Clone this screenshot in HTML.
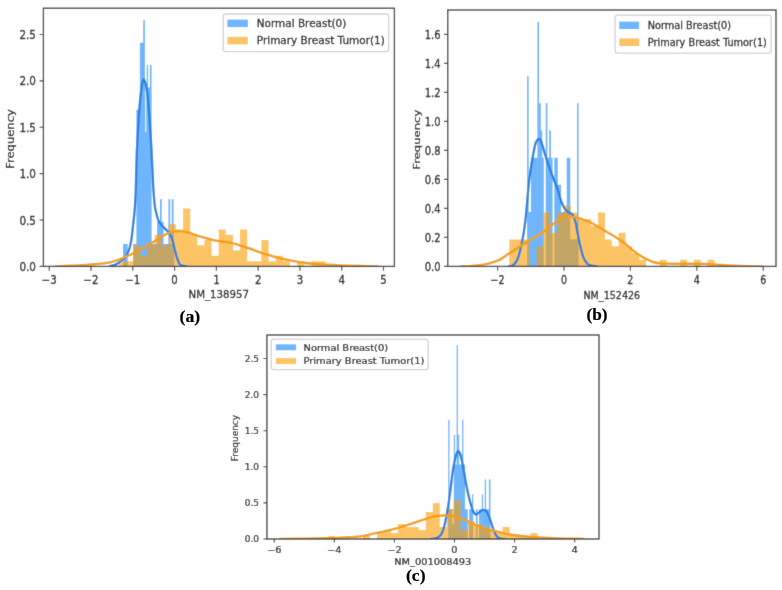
<!DOCTYPE html>
<html lang="en">
<head>
<meta charset="utf-8">
<title>Gene expression distribution: Normal Breast vs Primary Breast Tumor</title>
<style>
html,body{margin:0;padding:0;background:#fff;}
body{width:782px;height:590px;overflow:hidden;}
svg{display:block;will-change:transform;transform:translateZ(0);}
text{white-space:pre;}
</style>
</head>
<body>
<svg width="782" height="590" viewBox="0 0 782 590" role="img" aria-label="Histograms with density curves for NM_138957, NM_152426 and NM_001008493">
<defs><filter id="soft" x="0" y="0" width="100%" height="100%" filterUnits="objectBoundingBox"><feConvolveMatrix order="3" kernelMatrix="0.011 0.084 0.011 0.084 0.62 0.084 0.011 0.084 0.011" divisor="1" edgeMode="duplicate" preserveAlpha="true"/></filter></defs>
<rect width="782" height="590" fill="#ffffff"/>
<g filter="url(#soft)">
<rect width="782" height="590" fill="#ffffff"/>
<g id="panel-a">
<clipPath id="clipA"><rect x="43.4" y="8.25" width="351" height="258.15"/></clipPath>
<path d="M123.1 266.4H127.7V244.03H123.1ZM133.2 266.4H136.4V244.03H133.2ZM136.4 266.4H139.9V109.81H136.4ZM139.9 266.4H143.2V42.7H139.9ZM143.2 266.4H144.9V20.33H143.2ZM144.9 266.4H145.3V87.44H144.9ZM145.3 266.4H146.3V132.18H145.3ZM146.3 266.4H146.7V87.44H146.3ZM146.7 266.4H148.1V65.07H146.7ZM148.1 266.4H149.8V87.44H148.1ZM149.8 266.4H151.6V65.07H149.8ZM151.6 266.4H157.1V244.03H151.6ZM157.1 266.4H160V221.66H157.1ZM160 266.4H161.8V199.29H160ZM161.8 266.4H163.6V221.66H161.8ZM163.6 266.4H168.4V244.03H163.6ZM168.4 266.4H170.2V199.29H168.4ZM170.2 266.4H171.7V244.03H170.2ZM171.7 266.4H173.6V199.29H171.7ZM173.6 266.4H174.3V244.03H173.6Z" fill="rgb(14,132,250)" fill-opacity="0.6"/>
<path d="M119 266.4H126.12V261.13H119ZM126.12 266.4H133.24V261.13H126.12ZM133.24 266.4H140.36V245.32H133.24ZM140.36 266.4H147.48V255.86H140.36ZM147.48 266.4H154.6V245.32H147.48ZM154.6 266.4H161.72V234.78H154.6ZM161.72 266.4H168.84V245.32H161.72ZM168.84 266.4H175.96V224.24H168.84ZM175.96 266.4H183.08V229.51H175.96ZM183.08 266.4H190.2V208.43H183.08ZM190.2 266.4H197.32V234.78H190.2ZM197.32 266.4H204.44V245.32H197.32ZM204.44 266.4H211.56V240.05H204.44ZM211.56 266.4H218.68V255.86H211.56ZM218.68 266.4H225.8V229.51H218.68ZM225.8 266.4H232.92V234.78H225.8ZM232.92 266.4H240.04V250.59H232.92ZM240.04 266.4H247.16V229.51H240.04ZM247.16 266.4H254.28V261.13H247.16ZM254.28 266.4H261.4V261.13H254.28ZM261.4 266.4H268.52V240.05H261.4ZM268.52 266.4H275.64V261.13H268.52ZM275.64 266.4H282.76V255.86H275.64ZM282.76 266.4H289.88V261.13H282.76ZM297 266.4H304.12V261.13H297ZM311.24 266.4H318.36V261.13H311.24ZM318.36 266.4H325.48V261.13H318.36Z" fill="rgb(252,157,0)" fill-opacity="0.6"/>
<path d="M110 266.1C110.67 265.95 112.67 265.68 114 265.2C115.33 264.72 116.45 264.23 118 263.2C119.55 262.17 121.77 260.47 123.3 259C124.83 257.53 125.93 257.13 127.2 254.4C128.47 251.67 129.9 247.63 130.9 242.6C131.9 237.57 132.58 229.47 133.2 224.2C133.82 218.93 134.18 216.37 134.6 211C135.02 205.63 135.32 202.17 135.7 192C136.08 181.83 136.3 163.77 136.9 150C137.5 136.23 138.5 119.92 139.3 109.4C140.1 98.88 140.95 91.93 141.7 86.9C142.45 81.87 143.03 79.2 143.8 79.2C144.57 79.2 145.62 83.65 146.3 86.9C146.98 90.15 147.35 93.17 147.9 98.7C148.45 104.23 149.02 111.88 149.6 120.1C150.18 128.32 150.8 137.02 151.4 148C152 158.98 152.67 176.67 153.2 186C153.73 195.33 154.13 199.68 154.6 204C155.07 208.32 155.28 209 156 211.9C156.72 214.8 157.62 218.83 158.9 221.4C160.18 223.97 162.22 225.62 163.7 227.3C165.18 228.98 166.52 229.92 167.8 231.5C169.08 233.08 170.32 234.13 171.4 236.8C172.48 239.47 173.42 244.13 174.3 247.5C175.18 250.87 175.8 254.23 176.7 257C177.6 259.77 178.52 262.63 179.7 264.1C180.88 265.57 182.58 265.43 183.8 265.8C185.02 266.17 186.47 266.22 187 266.3" fill="none" stroke="#2681e2" stroke-width="2.3" stroke-linejoin="round" stroke-linecap="round" clip-path="url(#clipA)"/>
<path d="M56 266.4C58.33 266.3 64.42 266.1 70 265.8C75.58 265.5 82.83 265.17 89.5 264.6C96.17 264.03 104.45 263.5 110 262.4C115.55 261.3 118.55 259.7 122.8 258C127.05 256.3 131.25 254.35 135.5 252.2C139.75 250.05 144.03 247.63 148.3 245.1C152.57 242.57 157.72 239.02 161.1 237C164.48 234.98 166.27 233.93 168.6 233C170.93 232.07 173.1 231.72 175.1 231.4C177.1 231.08 178.12 230.83 180.6 231.1C183.08 231.37 187.22 232.25 190 233C192.78 233.75 192.97 234.33 197.3 235.6C201.63 236.87 210.32 239.4 216 240.6C221.68 241.8 226.28 241.65 231.4 242.8C236.52 243.95 241.6 245.77 246.7 247.5C251.8 249.23 256.88 251.53 262 253.2C267.12 254.87 272.73 256.3 277.4 257.5C282.07 258.7 286.23 259.62 290 260.4C293.77 261.18 296.33 261.67 300 262.2C303.67 262.73 305.1 263.07 312 263.6C318.9 264.13 330.4 264.93 341.4 265.4C352.4 265.87 371.9 266.23 378 266.4" fill="none" stroke="#f29f14" stroke-width="2.4" stroke-linejoin="round" stroke-linecap="round" clip-path="url(#clipA)"/>
<rect x="43.4" y="8.25" width="351" height="258.15" fill="none" stroke="#3c3c3c" stroke-width="1.35"/>
<path d="M49.26 266.4v4.3M91.04 266.4v4.3M132.82 266.4v4.3M174.6 266.4v4.3M216.38 266.4v4.3M258.16 266.4v4.3M299.94 266.4v4.3M341.72 266.4v4.3M383.5 266.4v4.3" stroke="#3c3c3c" stroke-width="1.1" fill="none"/>
<path d="M43.4 266.4h-3.8M43.4 220.02h-3.8M43.4 173.65h-3.8M43.4 127.27h-3.8M43.4 80.9h-3.8M43.4 34.52h-3.8" stroke="#3c3c3c" stroke-width="1.1" fill="none"/>
<text transform="translate(49.26 283.55) scale(0.8800 1.0000)" font-family='"DejaVu Sans", "Liberation Sans", sans-serif' font-size="11.6" font-weight="normal" text-anchor="middle" fill="#161616" stroke="#161616" stroke-width="0.3">−3</text>
<text transform="translate(91.04 283.55) scale(0.8800 1.0000)" font-family='"DejaVu Sans", "Liberation Sans", sans-serif' font-size="11.6" font-weight="normal" text-anchor="middle" fill="#161616" stroke="#161616" stroke-width="0.3">−2</text>
<text transform="translate(132.82 283.55) scale(0.8800 1.0000)" font-family='"DejaVu Sans", "Liberation Sans", sans-serif' font-size="11.6" font-weight="normal" text-anchor="middle" fill="#161616" stroke="#161616" stroke-width="0.3">−1</text>
<text transform="translate(174.6 283.55) scale(0.8800 1.0000)" font-family='"DejaVu Sans", "Liberation Sans", sans-serif' font-size="11.6" font-weight="normal" text-anchor="middle" fill="#161616" stroke="#161616" stroke-width="0.3">0</text>
<text transform="translate(216.38 283.55) scale(0.8800 1.0000)" font-family='"DejaVu Sans", "Liberation Sans", sans-serif' font-size="11.6" font-weight="normal" text-anchor="middle" fill="#161616" stroke="#161616" stroke-width="0.3">1</text>
<text transform="translate(258.16 283.55) scale(0.8800 1.0000)" font-family='"DejaVu Sans", "Liberation Sans", sans-serif' font-size="11.6" font-weight="normal" text-anchor="middle" fill="#161616" stroke="#161616" stroke-width="0.3">2</text>
<text transform="translate(299.94 283.55) scale(0.8800 1.0000)" font-family='"DejaVu Sans", "Liberation Sans", sans-serif' font-size="11.6" font-weight="normal" text-anchor="middle" fill="#161616" stroke="#161616" stroke-width="0.3">3</text>
<text transform="translate(341.72 283.55) scale(0.8800 1.0000)" font-family='"DejaVu Sans", "Liberation Sans", sans-serif' font-size="11.6" font-weight="normal" text-anchor="middle" fill="#161616" stroke="#161616" stroke-width="0.3">4</text>
<text transform="translate(383.5 283.55) scale(0.8800 1.0000)" font-family='"DejaVu Sans", "Liberation Sans", sans-serif' font-size="11.6" font-weight="normal" text-anchor="middle" fill="#161616" stroke="#161616" stroke-width="0.3">5</text>
<text transform="translate(36 270.9)" font-family='"DejaVu Sans", "Liberation Sans", sans-serif' font-size="11.6" font-weight="normal" text-anchor="end" fill="#161616" textLength="16.6" lengthAdjust="spacingAndGlyphs" stroke="#161616" stroke-width="0.3">0.0</text>
<text transform="translate(36 224.52)" font-family='"DejaVu Sans", "Liberation Sans", sans-serif' font-size="11.6" font-weight="normal" text-anchor="end" fill="#161616" textLength="16.6" lengthAdjust="spacingAndGlyphs" stroke="#161616" stroke-width="0.3">0.5</text>
<text transform="translate(36 178.15)" font-family='"DejaVu Sans", "Liberation Sans", sans-serif' font-size="11.6" font-weight="normal" text-anchor="end" fill="#161616" textLength="16.6" lengthAdjust="spacingAndGlyphs" stroke="#161616" stroke-width="0.3">1.0</text>
<text transform="translate(36 131.77)" font-family='"DejaVu Sans", "Liberation Sans", sans-serif' font-size="11.6" font-weight="normal" text-anchor="end" fill="#161616" textLength="16.6" lengthAdjust="spacingAndGlyphs" stroke="#161616" stroke-width="0.3">1.5</text>
<text transform="translate(36 85.4)" font-family='"DejaVu Sans", "Liberation Sans", sans-serif' font-size="11.6" font-weight="normal" text-anchor="end" fill="#161616" textLength="16.6" lengthAdjust="spacingAndGlyphs" stroke="#161616" stroke-width="0.3">2.0</text>
<text transform="translate(36 39.02)" font-family='"DejaVu Sans", "Liberation Sans", sans-serif' font-size="11.6" font-weight="normal" text-anchor="end" fill="#161616" textLength="16.6" lengthAdjust="spacingAndGlyphs" stroke="#161616" stroke-width="0.3">2.5</text>
<text transform="translate(218.8 298.4)" font-family='"DejaVu Sans", "Liberation Sans", sans-serif' font-size="11" font-weight="normal" text-anchor="middle" fill="#161616" textLength="60.6" lengthAdjust="spacingAndGlyphs" stroke="#161616" stroke-width="0.29">NM_138957</text>
<text transform="translate(13.8 139) rotate(-90) scale(1.0000 0.9400)" font-family='"DejaVu Sans", "Liberation Sans", sans-serif' font-size="11" font-weight="normal" text-anchor="middle" fill="#161616" textLength="59.8" lengthAdjust="spacingAndGlyphs" stroke="#161616" stroke-width="0.29">Frequency</text>
<rect x="223.2" y="14" width="165.5" height="37.7" rx="2.6" fill="#fff" fill-opacity="0.8" stroke="#d2d2d2" stroke-width="1.3"/>
<rect x="227.4" y="19.6" width="20.5" height="7.5" fill="rgb(14,132,250)" fill-opacity="0.6"/>
<rect x="227.4" y="36.9" width="20.5" height="7.5" fill="rgb(252,157,0)" fill-opacity="0.6"/>
<text transform="translate(256.8 27.1)" font-family='"DejaVu Sans", "Liberation Sans", sans-serif' font-size="11" font-weight="normal" text-anchor="start" fill="#161616" textLength="89.5" lengthAdjust="spacingAndGlyphs" stroke="#161616" stroke-width="0.29">Normal Breast(0)</text>
<text transform="translate(256.8 44.3)" font-family='"DejaVu Sans", "Liberation Sans", sans-serif' font-size="11" font-weight="normal" text-anchor="start" fill="#161616" textLength="128" lengthAdjust="spacingAndGlyphs" stroke="#161616" stroke-width="0.29">Primary Breast Tumor(1)</text>
</g>
<g id="panel-b">
<clipPath id="clipB"><rect x="447.75" y="10" width="328.25" height="256.4"/></clipPath>
<path d="M527.1 266.4H528.7V76.14H527.1ZM528.7 266.4H530.9V212.04H528.7ZM530.9 266.4H537.4V157.68H530.9ZM537.4 266.4H539.1V21.78H537.4ZM539.1 266.4H540.8V103.32H539.1ZM540.8 266.4H542.3V130.5H540.8ZM542.3 266.4H543.8V157.68H542.3ZM545.7 266.4H547.4V103.32H545.7ZM547.4 266.4H549.2V157.68H547.4ZM549.2 266.4H551V130.5H549.2ZM551 266.4H552.6V157.68H551ZM554.3 266.4H557.8V157.68H554.3ZM557.8 266.4H561.1V184.86H557.8ZM561.1 266.4H566.7V212.04H561.1ZM566.7 266.4H570.3V157.68H566.7ZM570.3 266.4H577V239.22H570.3ZM577 266.4H578.6V103.32H577Z" fill="rgb(14,132,250)" fill-opacity="0.6"/>
<path d="M509.2 266.4H516.04V239.4H509.2ZM516.04 266.4H522.88V239.4H516.04ZM522.88 266.4H529.72V239.4H522.88ZM536.56 266.4H543.4V246.15H536.56ZM543.4 266.4H550.24V212.4H543.4ZM550.24 266.4H557.08V232.65H550.24ZM557.08 266.4H563.92V212.4H557.08ZM563.92 266.4H570.76V205.65H563.92ZM570.76 266.4H577.6V212.4H570.76ZM577.6 266.4H584.44V219.15H577.6ZM584.44 266.4H591.28V219.15H584.44ZM591.28 266.4H598.12V225.9H591.28ZM598.12 266.4H604.96V212.4H598.12ZM604.96 266.4H611.8V239.4H604.96ZM611.8 266.4H618.64V246.15H611.8ZM618.64 266.4H625.48V232.65H618.64ZM625.48 266.4H632.32V246.15H625.48ZM632.32 266.4H639.16V252.9H632.32ZM639.16 266.4H646V259.65H639.16ZM659.68 266.4H666.52V259.65H659.68ZM680.2 266.4H687.04V259.65H680.2ZM693.88 266.4H700.72V259.65H693.88ZM707.56 266.4H714.4V259.65H707.56Z" fill="rgb(252,157,0)" fill-opacity="0.6"/>
<path d="M509 266.3C509.58 266.18 511.18 266.55 512.5 265.6C513.82 264.65 515.67 262.97 516.9 260.6C518.13 258.23 518.88 255.33 519.9 251.4C520.92 247.47 522.1 242.02 523 237C523.9 231.98 524.65 226.63 525.3 221.3C525.95 215.97 526.35 210.95 526.9 205C527.45 199.05 528.02 191.27 528.6 185.6C529.18 179.93 529.78 175.35 530.4 171C531.02 166.65 531.5 163.9 532.3 159.5C533.1 155.1 534.38 147.82 535.2 144.6C536.02 141.38 536.58 141.15 537.2 140.2C537.82 139.25 538.33 138.87 538.9 138.9C539.47 138.93 539.98 139.23 540.6 140.4C541.22 141.57 541.83 143.47 542.6 145.9C543.37 148.33 544.23 151.85 545.2 155C546.17 158.15 546.97 160.72 548.4 164.8C549.83 168.88 552.28 175.47 553.8 179.5C555.32 183.53 556.25 185.33 557.5 189C558.75 192.67 559.98 198.07 561.3 201.5C562.62 204.93 564 207.72 565.4 209.6C566.8 211.48 568.4 211.8 569.7 212.8C571 213.8 572.22 213.98 573.2 215.6C574.18 217.22 574.87 219.6 575.6 222.5C576.33 225.4 576.9 229.42 577.6 233C578.3 236.58 578.85 239.98 579.8 244C580.75 248.02 582.08 253.83 583.3 257.1C584.52 260.37 585.82 262.18 587.1 263.6C588.38 265.02 589.35 265.15 591 265.6C592.65 266.05 596 266.18 597 266.3" fill="none" stroke="#2681e2" stroke-width="2.3" stroke-linejoin="round" stroke-linecap="round" clip-path="url(#clipB)"/>
<path d="M461.4 266.3C463.17 266.23 468.6 266.13 472 265.9C475.4 265.67 478.63 265.42 481.8 264.9C484.97 264.38 487.97 263.68 491 262.8C494.03 261.92 497.27 260.97 500 259.6C502.73 258.23 504.85 256.27 507.4 254.6C509.95 252.93 512.87 251.2 515.3 249.6C517.73 248 519.43 246.67 522 245C524.57 243.33 528.03 241.27 530.7 239.6C533.37 237.93 535.45 236.6 538 235C540.55 233.4 543.5 231.8 546 230C548.5 228.2 550.93 225.82 553 224.2C555.07 222.58 556.65 221.4 558.4 220.3C560.15 219.2 561.87 218.2 563.5 217.6C565.13 217 566.45 216.78 568.2 216.7C569.95 216.62 572.07 216.82 574 217.1C575.93 217.38 577.8 217.82 579.8 218.4C581.8 218.98 583.95 219.8 586 220.6C588.05 221.4 589.77 222.02 592.1 223.2C594.43 224.38 597.45 226.2 600 227.7C602.55 229.2 604.9 230.68 607.4 232.2C609.9 233.72 612.35 235.12 615 236.8C617.65 238.48 620.47 240.17 623.3 242.3C626.13 244.43 629.22 247.38 632 249.6C634.78 251.82 637.58 254.02 640 255.6C642.42 257.18 644.33 258.03 646.5 259.1C648.67 260.17 650.67 261.28 653 262C655.33 262.72 656.83 263.1 660.5 263.4C664.17 263.7 669.58 263.75 675 263.8C680.42 263.85 688 263.68 693 263.7C698 263.72 701.1 263.75 705 263.9C708.9 264.05 712.57 264.35 716.4 264.6C720.23 264.85 724.13 265.18 728 265.4C731.87 265.62 733.97 265.73 739.6 265.9C745.23 266.07 758.1 266.32 761.8 266.4" fill="none" stroke="#f29f14" stroke-width="2.4" stroke-linejoin="round" stroke-linecap="round" clip-path="url(#clipB)"/>
<rect x="447.75" y="10" width="328.25" height="256.4" fill="none" stroke="#3c3c3c" stroke-width="1.35"/>
<path d="M497.6 266.4v4.3M564 266.4v4.3M630.4 266.4v4.3M696.8 266.4v4.3M763.2 266.4v4.3" stroke="#3c3c3c" stroke-width="1.1" fill="none"/>
<path d="M447.75 266.4h-3.8M447.75 237.4h-3.8M447.75 208.4h-3.8M447.75 179.4h-3.8M447.75 150.4h-3.8M447.75 121.4h-3.8M447.75 92.4h-3.8M447.75 63.4h-3.8M447.75 34.4h-3.8" stroke="#3c3c3c" stroke-width="1.1" fill="none"/>
<text transform="translate(497.6 283.55) scale(0.8200 1.0000)" font-family='"DejaVu Sans", "Liberation Sans", sans-serif' font-size="11.6" font-weight="normal" text-anchor="middle" fill="#161616" stroke="#161616" stroke-width="0.3">−2</text>
<text transform="translate(564 283.55) scale(0.8200 1.0000)" font-family='"DejaVu Sans", "Liberation Sans", sans-serif' font-size="11.6" font-weight="normal" text-anchor="middle" fill="#161616" stroke="#161616" stroke-width="0.3">0</text>
<text transform="translate(630.4 283.55) scale(0.8200 1.0000)" font-family='"DejaVu Sans", "Liberation Sans", sans-serif' font-size="11.6" font-weight="normal" text-anchor="middle" fill="#161616" stroke="#161616" stroke-width="0.3">2</text>
<text transform="translate(696.8 283.55) scale(0.8200 1.0000)" font-family='"DejaVu Sans", "Liberation Sans", sans-serif' font-size="11.6" font-weight="normal" text-anchor="middle" fill="#161616" stroke="#161616" stroke-width="0.3">4</text>
<text transform="translate(763.2 283.55) scale(0.8200 1.0000)" font-family='"DejaVu Sans", "Liberation Sans", sans-serif' font-size="11.6" font-weight="normal" text-anchor="middle" fill="#161616" stroke="#161616" stroke-width="0.3">6</text>
<text transform="translate(440.6 271)" font-family='"DejaVu Sans", "Liberation Sans", sans-serif' font-size="11.6" font-weight="normal" text-anchor="end" fill="#161616" textLength="15.9" lengthAdjust="spacingAndGlyphs" stroke="#161616" stroke-width="0.3">0.0</text>
<text transform="translate(440.6 242)" font-family='"DejaVu Sans", "Liberation Sans", sans-serif' font-size="11.6" font-weight="normal" text-anchor="end" fill="#161616" textLength="15.9" lengthAdjust="spacingAndGlyphs" stroke="#161616" stroke-width="0.3">0.2</text>
<text transform="translate(440.6 213)" font-family='"DejaVu Sans", "Liberation Sans", sans-serif' font-size="11.6" font-weight="normal" text-anchor="end" fill="#161616" textLength="15.9" lengthAdjust="spacingAndGlyphs" stroke="#161616" stroke-width="0.3">0.4</text>
<text transform="translate(440.6 184)" font-family='"DejaVu Sans", "Liberation Sans", sans-serif' font-size="11.6" font-weight="normal" text-anchor="end" fill="#161616" textLength="15.9" lengthAdjust="spacingAndGlyphs" stroke="#161616" stroke-width="0.3">0.6</text>
<text transform="translate(440.6 155)" font-family='"DejaVu Sans", "Liberation Sans", sans-serif' font-size="11.6" font-weight="normal" text-anchor="end" fill="#161616" textLength="15.9" lengthAdjust="spacingAndGlyphs" stroke="#161616" stroke-width="0.3">0.8</text>
<text transform="translate(440.6 126)" font-family='"DejaVu Sans", "Liberation Sans", sans-serif' font-size="11.6" font-weight="normal" text-anchor="end" fill="#161616" textLength="15.9" lengthAdjust="spacingAndGlyphs" stroke="#161616" stroke-width="0.3">1.0</text>
<text transform="translate(440.6 97)" font-family='"DejaVu Sans", "Liberation Sans", sans-serif' font-size="11.6" font-weight="normal" text-anchor="end" fill="#161616" textLength="15.9" lengthAdjust="spacingAndGlyphs" stroke="#161616" stroke-width="0.3">1.2</text>
<text transform="translate(440.6 68)" font-family='"DejaVu Sans", "Liberation Sans", sans-serif' font-size="11.6" font-weight="normal" text-anchor="end" fill="#161616" textLength="15.9" lengthAdjust="spacingAndGlyphs" stroke="#161616" stroke-width="0.3">1.4</text>
<text transform="translate(440.6 39)" font-family='"DejaVu Sans", "Liberation Sans", sans-serif' font-size="11.6" font-weight="normal" text-anchor="end" fill="#161616" textLength="15.9" lengthAdjust="spacingAndGlyphs" stroke="#161616" stroke-width="0.3">1.6</text>
<text transform="translate(611.8 298.5)" font-family='"DejaVu Sans", "Liberation Sans", sans-serif' font-size="11" font-weight="normal" text-anchor="middle" fill="#161616" textLength="56.8" lengthAdjust="spacingAndGlyphs" stroke="#161616" stroke-width="0.29">NM_152426</text>
<text transform="translate(420.3 139.7) rotate(-90) scale(1.0000 0.8700)" font-family='"DejaVu Sans", "Liberation Sans", sans-serif' font-size="11" font-weight="normal" text-anchor="middle" fill="#161616" textLength="60" lengthAdjust="spacingAndGlyphs" stroke="#161616" stroke-width="0.29">Frequency</text>
<rect x="615.1" y="15.1" width="156" height="38" rx="2.6" fill="#fff" fill-opacity="0.8" stroke="#d2d2d2" stroke-width="1.3"/>
<rect x="619.3" y="21.6" width="19.8" height="7.5" fill="rgb(14,132,250)" fill-opacity="0.6"/>
<rect x="619.3" y="38.4" width="19.8" height="7.7" fill="rgb(252,157,0)" fill-opacity="0.6"/>
<text transform="translate(647.7 29.2)" font-family='"DejaVu Sans", "Liberation Sans", sans-serif' font-size="11" font-weight="normal" text-anchor="start" fill="#161616" textLength="83.4" lengthAdjust="spacingAndGlyphs" stroke="#161616" stroke-width="0.29">Normal Breast(0)</text>
<text transform="translate(647.7 45.9)" font-family='"DejaVu Sans", "Liberation Sans", sans-serif' font-size="11" font-weight="normal" text-anchor="start" fill="#161616" textLength="119.2" lengthAdjust="spacingAndGlyphs" stroke="#161616" stroke-width="0.29">Primary Breast Tumor(1)</text>
</g>
<g id="panel-c">
<clipPath id="clipC"><rect x="266.9" y="335" width="332.1" height="204"/></clipPath>
<path d="M448.2 539H449.5V419.8H448.2ZM449.5 539H452.1V509.2H449.5ZM452.1 539H453.8V524.1H452.1ZM453.8 539H455.1V434.7H453.8ZM455.1 539H456.6V464.5H455.1ZM456.6 539H457.9V345.3H456.6ZM457.9 539H459.2V434.7H457.9ZM459.2 539H462.1V464.5H459.2ZM462.1 539H463.4V419.8H462.1ZM463.4 539H465.1V464.5H463.4ZM465.1 539H467.8V509.2H465.1ZM469.2 539H472V509.2H469.2ZM472 539H473.2V494.3H472ZM475.9 539H477.7V509.2H475.9ZM479 539H481.7V509.2H479ZM481.8 539H483.1V494.3H481.8ZM483.1 539H484.7V509.2H483.1ZM484.7 539H486.1V479.4H484.7ZM486.1 539H488.9V509.2H486.1ZM488.9 539H490.5V479.4H488.9Z" fill="rgb(14,132,250)" fill-opacity="0.6"/>
<path d="M328.1 539H335.08V536.01H328.1ZM363 539H369.98V536.01H363ZM376.96 539H383.94V533.02H376.96ZM383.94 539H390.92V530.03H383.94ZM390.92 539H397.9V533.02H390.92ZM397.9 539H404.88V524.05H397.9ZM404.88 539H411.86V527.04H404.88ZM411.86 539H418.84V527.04H411.86ZM418.84 539H425.82V530.03H418.84ZM425.82 539H432.8V512.09H425.82ZM432.8 539H439.78V503.12H432.8ZM439.78 539H446.76V527.04H439.78ZM446.76 539H453.74V509.1H446.76ZM453.74 539H460.72V500.13H453.74ZM460.72 539H467.7V530.03H460.72ZM467.7 539H474.68V521.06H467.7ZM474.68 539H481.66V524.05H474.68ZM481.66 539H488.64V527.04H481.66ZM488.64 539H495.62V530.03H488.64ZM495.62 539H502.6V533.02H495.62ZM502.6 539H509.58V527.04H502.6ZM509.58 539H516.56V536.01H509.58ZM516.56 539H523.54V536.01H516.56ZM523.54 539H530.52V536.01H523.54ZM530.52 539H537.5V533.02H530.52Z" fill="rgb(252,157,0)" fill-opacity="0.6"/>
<path d="M431.5 538.9C432.17 538.82 434.25 538.78 435.5 538.4C436.75 538.02 437.98 537.4 439 536.6C440.02 535.8 440.83 534.95 441.6 533.6C442.37 532.25 442.9 530.87 443.6 528.5C444.3 526.13 445.03 523.15 445.8 519.4C446.57 515.65 447.38 511.23 448.2 506C449.02 500.77 449.93 493.85 450.7 488C451.47 482.15 452.18 475.15 452.8 470.9C453.42 466.65 453.88 465 454.4 462.5C454.92 460 455.43 457.62 455.9 455.9C456.37 454.18 456.8 453.02 457.2 452.2C457.6 451.38 457.9 450.93 458.3 451C458.7 451.07 459.12 451.5 459.6 452.6C460.08 453.7 460.5 454.55 461.2 457.6C461.9 460.65 462.85 465.83 463.8 470.9C464.75 475.97 465.93 483.2 466.9 488C467.87 492.8 468.62 495.95 469.6 499.7C470.58 503.45 471.75 508.03 472.8 510.5C473.85 512.97 474.72 514.28 475.9 514.5C477.08 514.72 478.63 512.58 479.9 511.8C481.17 511.02 482.28 509.72 483.5 509.8C484.72 509.88 486.05 510.55 487.2 512.3C488.35 514.05 489.32 517.32 490.4 520.3C491.48 523.28 492.63 527.52 493.7 530.2C494.77 532.88 495.67 534.98 496.8 536.4C497.93 537.82 499.22 538.27 500.5 538.7C501.78 539.13 503.83 538.95 504.5 539" fill="none" stroke="#2681e2" stroke-width="2.3" stroke-linejoin="round" stroke-linecap="round" clip-path="url(#clipC)"/>
<path d="M280 538.9C284.17 538.85 297.12 538.73 305 538.6C312.88 538.47 320.63 538.3 327.3 538.1C333.97 537.9 339.55 537.68 345 537.4C350.45 537.12 355.58 536.93 360 536.4C364.42 535.87 367.67 534.98 371.5 534.2C375.33 533.42 379.17 532.58 383 531.7C386.83 530.82 390.67 529.93 394.5 528.9C398.33 527.87 402.17 526.7 406 525.5C409.83 524.3 413.67 522.97 417.5 521.7C421.33 520.43 425.53 518.87 429 517.9C432.47 516.93 435.6 516.3 438.3 515.9C441 515.5 443.25 515.53 445.2 515.5C447.15 515.47 448.22 515.52 450 515.7C451.78 515.88 452.87 515.65 455.9 516.6C458.93 517.55 464.62 519.9 468.2 521.4C471.78 522.9 474.6 524.45 477.4 525.6C480.2 526.75 482.37 527.48 485 528.3C487.63 529.12 490.37 529.75 493.2 530.5C496.03 531.25 498.7 532.05 502 532.8C505.3 533.55 507.48 534.27 513 535C518.52 535.73 527.73 536.65 535.1 537.2C542.47 537.75 549.12 538.02 557.2 538.3C565.28 538.58 579.2 538.8 583.6 538.9" fill="none" stroke="#f29f14" stroke-width="2.35" stroke-linejoin="round" stroke-linecap="round" clip-path="url(#clipC)"/>
<rect x="266.9" y="335" width="332.1" height="204" fill="none" stroke="#3c3c3c" stroke-width="1.35"/>
<path d="M274.2 539v3.5M334.3 539v3.5M394.4 539v3.5M454.5 539v3.5M514.6 539v3.5M574.7 539v3.5" stroke="#3c3c3c" stroke-width="1.1" fill="none"/>
<path d="M266.9 539h-3.5M266.9 502.9h-3.5M266.9 466.8h-3.5M266.9 430.7h-3.5M266.9 394.6h-3.5M266.9 358.5h-3.5" stroke="#3c3c3c" stroke-width="1.1" fill="none"/>
<text transform="translate(274.2 552.8) scale(1.1300 1.0000)" font-family='"DejaVu Sans", "Liberation Sans", sans-serif' font-size="8.7" font-weight="normal" text-anchor="middle" fill="#161616" stroke="#161616" stroke-width="0.23">−6</text>
<text transform="translate(334.3 552.8) scale(1.1300 1.0000)" font-family='"DejaVu Sans", "Liberation Sans", sans-serif' font-size="8.7" font-weight="normal" text-anchor="middle" fill="#161616" stroke="#161616" stroke-width="0.23">−4</text>
<text transform="translate(394.4 552.8) scale(1.1300 1.0000)" font-family='"DejaVu Sans", "Liberation Sans", sans-serif' font-size="8.7" font-weight="normal" text-anchor="middle" fill="#161616" stroke="#161616" stroke-width="0.23">−2</text>
<text transform="translate(454.5 552.8) scale(1.1300 1.0000)" font-family='"DejaVu Sans", "Liberation Sans", sans-serif' font-size="8.7" font-weight="normal" text-anchor="middle" fill="#161616" stroke="#161616" stroke-width="0.23">0</text>
<text transform="translate(514.6 552.8) scale(1.1300 1.0000)" font-family='"DejaVu Sans", "Liberation Sans", sans-serif' font-size="8.7" font-weight="normal" text-anchor="middle" fill="#161616" stroke="#161616" stroke-width="0.23">2</text>
<text transform="translate(574.7 552.8) scale(1.1300 1.0000)" font-family='"DejaVu Sans", "Liberation Sans", sans-serif' font-size="8.7" font-weight="normal" text-anchor="middle" fill="#161616" stroke="#161616" stroke-width="0.23">4</text>
<text transform="translate(259 542.4)" font-family='"DejaVu Sans", "Liberation Sans", sans-serif' font-size="9.1" font-weight="normal" text-anchor="end" fill="#161616" textLength="14.2" lengthAdjust="spacingAndGlyphs" stroke="#161616" stroke-width="0.24">0.0</text>
<text transform="translate(259 506.3)" font-family='"DejaVu Sans", "Liberation Sans", sans-serif' font-size="9.1" font-weight="normal" text-anchor="end" fill="#161616" textLength="14.2" lengthAdjust="spacingAndGlyphs" stroke="#161616" stroke-width="0.24">0.5</text>
<text transform="translate(259 470.2)" font-family='"DejaVu Sans", "Liberation Sans", sans-serif' font-size="9.1" font-weight="normal" text-anchor="end" fill="#161616" textLength="14.2" lengthAdjust="spacingAndGlyphs" stroke="#161616" stroke-width="0.24">1.0</text>
<text transform="translate(259 434.1)" font-family='"DejaVu Sans", "Liberation Sans", sans-serif' font-size="9.1" font-weight="normal" text-anchor="end" fill="#161616" textLength="14.2" lengthAdjust="spacingAndGlyphs" stroke="#161616" stroke-width="0.24">1.5</text>
<text transform="translate(259 398)" font-family='"DejaVu Sans", "Liberation Sans", sans-serif' font-size="9.1" font-weight="normal" text-anchor="end" fill="#161616" textLength="14.2" lengthAdjust="spacingAndGlyphs" stroke="#161616" stroke-width="0.24">2.0</text>
<text transform="translate(259 361.9)" font-family='"DejaVu Sans", "Liberation Sans", sans-serif' font-size="9.1" font-weight="normal" text-anchor="end" fill="#161616" textLength="14.2" lengthAdjust="spacingAndGlyphs" stroke="#161616" stroke-width="0.24">2.5</text>
<text transform="translate(432.7 565.1)" font-family='"DejaVu Sans", "Liberation Sans", sans-serif' font-size="8.7" font-weight="normal" text-anchor="middle" fill="#161616" textLength="77" lengthAdjust="spacingAndGlyphs" stroke="#161616" stroke-width="0.23">NM_001008493</text>
<text transform="translate(238.4 438.1) rotate(-90) scale(1.0000 0.9400)" font-family='"DejaVu Sans", "Liberation Sans", sans-serif' font-size="8.7" font-weight="normal" text-anchor="middle" fill="#161616" textLength="46.3" lengthAdjust="spacingAndGlyphs" stroke="#161616" stroke-width="0.23">Frequency</text>
<rect x="271.2" y="339.2" width="157" height="30.4" rx="2.6" fill="#fff" fill-opacity="0.8" stroke="#d2d2d2" stroke-width="1.3"/>
<rect x="275.8" y="344.3" width="20.3" height="6" fill="rgb(14,132,250)" fill-opacity="0.6"/>
<rect x="275.8" y="358.1" width="20.3" height="6" fill="rgb(252,157,0)" fill-opacity="0.6"/>
<text transform="translate(303.5 350.6)" font-family='"DejaVu Sans", "Liberation Sans", sans-serif' font-size="8.4" font-weight="normal" text-anchor="start" fill="#161616" textLength="84.6" lengthAdjust="spacingAndGlyphs" stroke="#161616" stroke-width="0.22">Normal Breast(0)</text>
<text transform="translate(303.5 364)" font-family='"DejaVu Sans", "Liberation Sans", sans-serif' font-size="8.4" font-weight="normal" text-anchor="start" fill="#161616" textLength="120.9" lengthAdjust="spacingAndGlyphs" stroke="#161616" stroke-width="0.22">Primary Breast Tumor(1)</text>
</g>
</g>
<g id="panel-labels">
<text transform="translate(179.5 322.1)" font-family='"Liberation Serif", "DejaVu Serif", serif' font-size="17" font-weight="bold" text-anchor="start" fill="#000" textLength="20.7" lengthAdjust="spacingAndGlyphs" stroke="#000" stroke-width="0.2">(a)</text>
<text transform="translate(586.5 319.8)" font-family='"Liberation Serif", "DejaVu Serif", serif' font-size="17" font-weight="bold" text-anchor="start" fill="#000" textLength="21.1" lengthAdjust="spacingAndGlyphs" stroke="#000" stroke-width="0.2">(b)</text>
<text transform="translate(406 581.2)" font-family='"Liberation Serif", "DejaVu Serif", serif' font-size="17" font-weight="bold" text-anchor="start" fill="#000" textLength="19.5" lengthAdjust="spacingAndGlyphs" stroke="#000" stroke-width="0.2">(c)</text>
</g>
</svg>
</body>
</html>
